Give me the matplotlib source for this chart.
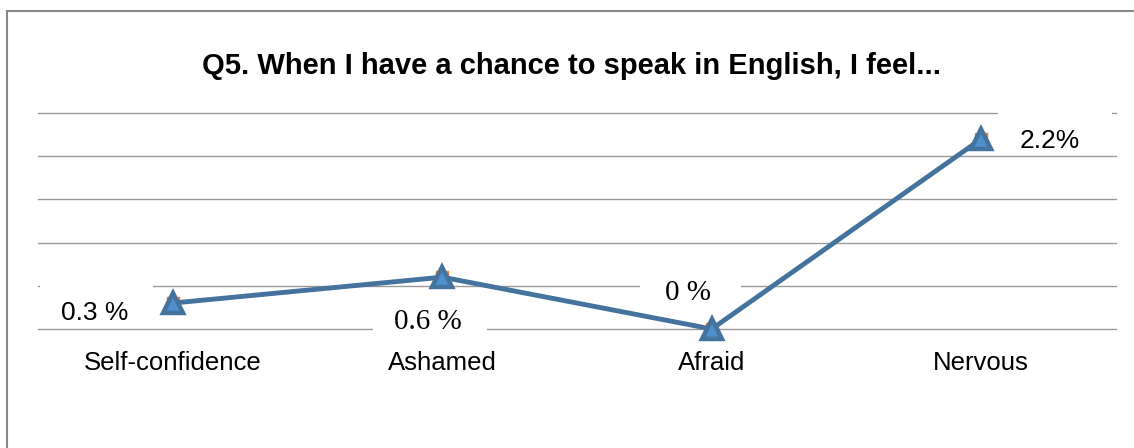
import matplotlib.pyplot as plt
from matplotlib.patches import Rectangle

categories = ["Self-confidence", "Ashamed", "Afraid", "Nervous"]
values = [0.3, 0.6, 0.0, 2.2]
value_labels = ["0.3 %", "0.6 %", "0 %", "2.2%"]

plt.rcParams['font.family'] = ['Liberation Sans', 'DejaVu Sans']

W, H = 1134, 448
fig = plt.figure(figsize=(W / 100, H / 100), dpi=100)

# outer chart border
fig.patches.append(Rectangle((7 / W, -0.05), 1.2, (H - 11) / H + 0.05,
                             transform=fig.transFigure, fill=False,
                             edgecolor='#888888', linewidth=1.5))

X0, X1, Y0, Y1 = 38, 1116, 329, 113   # plot area in pixels
ax = fig.add_axes([X0 / W, (H - Y0) / H, (X1 - X0) / W, (Y0 - Y1) / H])
ax.set_xlim(-0.5, 3.5)
ax.set_ylim(0, 2.5)
for s in ax.spines.values():
    s.set_visible(False)
ax.set_yticks([0, 0.5, 1.0, 1.5, 2.0, 2.5])
ax.yaxis.grid(True, color='#999999', linewidth=1.0)
for gl in ax.get_ygridlines():
    gl.set_clip_on(False)
ax.set_axisbelow(True)
ax.tick_params(axis='y', left=False, labelleft=False)
ax.set_xticks(range(len(categories)))
ax.set_xticklabels(categories, fontsize=18.5)
ax.tick_params(axis='x', bottom=False, pad=12.5)

x = list(range(len(categories)))
# hidden series behind the main one
ax.plot(x, values, color='#ED7D31', linewidth=2, marker='s', markersize=9,
        zorder=3, clip_on=False)
ax.plot(x, values, color='#44739E', linewidth=3.5, marker='^', markersize=15,
        markerfacecolor='#4F8FCB', markeredgecolor='#44739E',
        markeredgewidth=3.2, zorder=4, clip_on=False)


def px_x(p):
    return (p - X0) / (X1 - X0) * 4 - 0.5


def px_y(p):
    return (Y0 - p) / (Y0 - Y1) * 2.5


# data labels: text centre and white background box, in pixel positions
label_specs = [
    ((95, 313), (40, 153, 280, 326), 'Liberation Sans', 19),
    ((428, 322), (373, 487, 298, 345), 'Liberation Serif', 21),
    ((688, 293), (640, 741, 270, 315), 'Liberation Serif', 21),
    ((1050, 141), (998, 1112, 104, 150), 'Liberation Sans', 19),
]
for lab, (tc, box, fam, fs) in zip(value_labels, label_specs):
    bx0, bx1, by0, by1 = box
    ax.add_patch(Rectangle((px_x(bx0), px_y(by1)), px_x(bx1) - px_x(bx0),
                           px_y(by0) - px_y(by1), facecolor='white',
                           edgecolor='none', zorder=2, clip_on=False))
    ax.text(px_x(tc[0]), px_y(tc[1]), lab, ha='center', va='center',
            fontsize=fs, family=fam, zorder=5)

fig.text(572 / W, (H - 66) / H,
         "Q5. When I have a chance to speak in English, I feel...",
         ha='center', va='center', fontsize=21, fontweight='bold')

fig.savefig('out.png', dpi=100)
